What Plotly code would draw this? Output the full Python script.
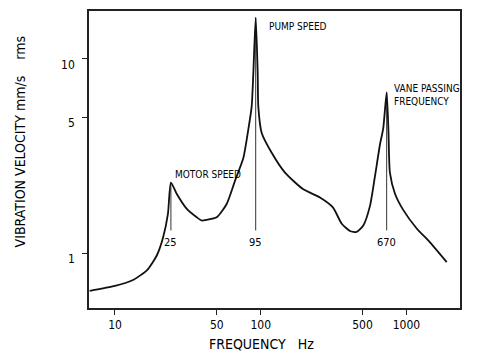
import math
import plotly.graph_objects as go

# Spectrum (frequency Hz, velocity mm/s rms)
freq_hz = [6.7, 10, 13.3, 16.6, 19.4, 21.4, 23.1, 24.2, 26.5, 31.0, 36.4, 39.4, 42.6,
           49.9, 58.4, 66.6, 76.0, 82.2, 86.7, 89.0, 92.4, 95.4, 96.3, 101.6, 119,
           146.8, 195, 255, 313, 360, 410, 456, 506, 563, 609, 659, 694, 732, 753,
           771, 835, 948, 1177, 1452, 1891]
velocity = [0.638, 0.677, 0.726, 0.817, 0.974, 1.204, 1.596, 2.306, 2.019, 1.693, 1.528,
            1.470, 1.482, 1.528, 1.789, 2.352, 3.082, 4.317, 5.677, 8.395, 16.3, 8.395,
            5.677, 4.149, 3.281, 2.593, 2.134, 1.933, 1.719, 1.414, 1.299, 1.284, 1.386,
            1.754, 2.494, 3.633, 4.399, 6.714, 4.232, 2.584, 2.019, 1.673, 1.338, 1.135,
            0.898]

# Marked peaks
peak_freq = [24.2, 92.4, 732]
peak_top = [2.306, 16.3, 6.714]
peak_bottom = [1.307, 1.307, 1.307]
peak_labels = ["25", "95", "670"]

x_ticks = [10, 50, 100, 500, 1000]
y_ticks = [1, 5, 10]

FONT = "DejaVu Sans Condensed, Liberation Sans Narrow, sans-serif"
INK = "#000000"

fig = go.Figure()
for f, top, bot in zip(peak_freq, peak_top, peak_bottom):
    fig.add_trace(go.Scatter(x=[f, f], y=[bot, top], mode="lines",
                             line=dict(color="#333333", width=1), hoverinfo="skip",
                             showlegend=False))
fig.add_trace(go.Scatter(x=freq_hz, y=velocity, mode="lines",
                         line=dict(color="#111111", width=1.8, shape="spline", smoothing=0.6),
                         showlegend=False))

axis_common = dict(showgrid=False, zeroline=False, showline=True, linecolor="#222222",
                   linewidth=1.5, mirror=True, ticks="outside", ticklen=5,
                   tickwidth=1.2, tickcolor="#222222",
                   tickfont=dict(family=FONT, size=12, color=INK))
fig.update_xaxes(type="log", range=[0.8216, 3.3679], tickvals=x_ticks,
                 ticktext=[str(t) for t in x_ticks], **axis_common)
fig.update_yaxes(type="log", range=[-0.2832, 1.2464], tickvals=y_ticks,
                 ticktext=[str(t) for t in y_ticks], ticklabelshift=6,
                 ticklabelstandoff=5, **axis_common)

ann_font = dict(family=FONT, size=10, color=INK)
for f, lab in zip(peak_freq, peak_labels):
    fig.add_annotation(x=math.log10(f), y=0.055, text=lab, showarrow=False,
                       xanchor="center", yanchor="middle",
                       font=dict(family=FONT, size=11, color=INK))
fig.add_annotation(x=1.4001, y=0.402, text="MOTOR SPEED", showarrow=False,
                   xanchor="left", yanchor="middle", font=ann_font)
fig.add_annotation(x=2.0453, y=1.1689, text="PUMP SPEED", showarrow=False,
                   xanchor="left", yanchor="middle", font=ann_font)
fig.add_annotation(x=2.9032, y=0.8117, text="VANE PASSING<br>FREQUENCY", showarrow=False,
                   xanchor="left", yanchor="middle", align="left", font=ann_font)

title_font = dict(family=FONT, size=14, color=INK)
fig.add_annotation(xref="paper", yref="paper", x=0.466, y=-0.122,
                   text="FREQUENCY\u00a0\u00a0\u00a0Hz", showarrow=False,
                   xanchor="center", yanchor="middle", font=title_font)
fig.add_annotation(xref="paper", yref="paper", x=-0.186, y=0.561,
                   text="VIBRATION VELOCITY mm/s\u00a0\u00a0\u00a0\u00a0rms", showarrow=False,
                   textangle=-90, xanchor="center", yanchor="middle", font=title_font)

# page body has an 8px margin, so the figure is drawn 8px in from the corner
fig.update_layout(width=492, height=355, margin=dict(l=81, r=40, t=1, b=55),
                  plot_bgcolor="white", paper_bgcolor="white")
fig.write_html("out.html")
